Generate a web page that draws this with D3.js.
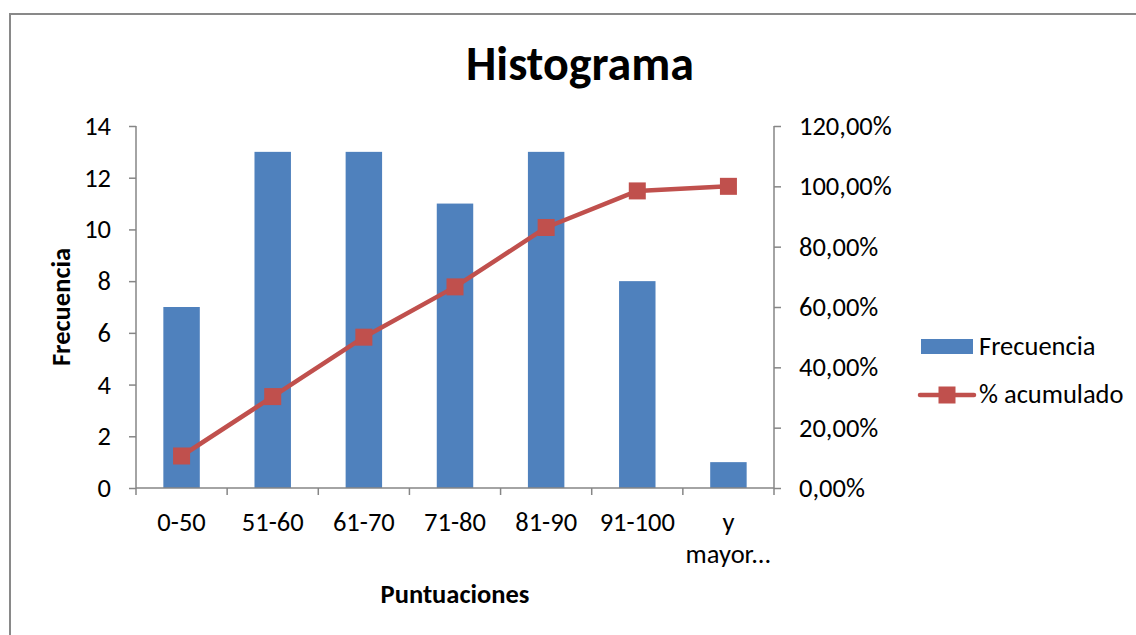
<!DOCTYPE html>
<html>
<head>
<meta charset="utf-8">
<script src="https://cdn.jsdelivr.net/npm/d3@7"></script>
<style>
  html, body { margin: 0; padding: 0; background: #fff; }
  svg { display: block; }
  text { font-family: Carlito, Calibri, Lato, "Noto Sans", sans-serif; fill: #000; }
</style>
</head>
<body>
<svg id="chart" width="1136" height="635"></svg>
<script>
// ---- data ----
const categories = ["0-50", "51-60", "61-70", "71-80", "81-90", "91-100", "y mayor..."];
const frecuencia = [7, 13, 13, 11, 13, 8, 1];
const acumulado = [0.1061, 0.3030, 0.5000, 0.6667, 0.8636, 0.9848, 1.0000];
const leftTicks = [0, 2, 4, 6, 8, 10, 12, 14];
const rightTicks = [0, 0.2, 0.4, 0.6, 0.8, 1.0, 1.2];
const title = "Histograma";
const xTitle = "Puntuaciones";
const yTitle = "Frecuencia";
const seriesNames = ["Frecuencia", "% acumulado"];

// ---- layout ----
const W = 1136, H = 635;
const plot = { left: 136, right: 774, top: 126, bottom: 488 };
const barColor = "#4F81BD";
const lineColor = "#C0504D";
const axisColor = "#868686";
const fontSize = 26.5;
const fontFam = "Carlito, Calibri, Lato, sans-serif";

const svg = d3.select("#chart");

// chart frame
svg.append("rect")
  .attr("x", 10).attr("y", 14)
  .attr("width", W).attr("height", H)
  .attr("fill", "#fff")
  .attr("stroke", "#898989").attr("stroke-width", 2);

// scales
const xSlot = d3.scaleBand().domain(categories).range([plot.left, plot.right]).padding(0);
const xBar = d3.scaleBand().domain(categories).range([plot.left, plot.right])
  .paddingInner(0.6).paddingOuter(0.3);
const yL = d3.scaleLinear().domain([0, 14]).range([plot.bottom, plot.top]);
const yR = d3.scaleLinear().domain([0, 1.2]).range([plot.bottom, plot.top]);

// bars
svg.append("g").selectAll("rect")
  .data(categories)
  .join("rect")
  .attr("x", d => xBar(d))
  .attr("width", xBar.bandwidth())
  .attr("y", (d, i) => yL(frecuencia[i]))
  .attr("height", (d, i) => yL(0) - yL(frecuencia[i]))
  .attr("fill", barColor);

// left axis
const gL = svg.append("g").attr("transform", `translate(${plot.left},0)`)
  .call(d3.axisLeft(yL).tickValues(leftTicks).tickSize(7).tickPadding(18).tickFormat(d3.format("d")));
gL.select(".domain").attr("stroke", axisColor).attr("stroke-width", 1.5)
  .attr("d", `M0,${plot.top}V${plot.bottom}`);
gL.selectAll(".tick line").attr("stroke", axisColor).attr("stroke-width", 1.5);
gL.selectAll(".tick text").style("font-size", fontSize + "px").attr("fill", "#000")
  .style("font-family", fontFam);

// right axis
const pctFmt = v => (v * 100).toFixed(2).replace(".", ",") + "%";
const gR = svg.append("g").attr("transform", `translate(${plot.right},0)`)
  .call(d3.axisRight(yR).tickValues(rightTicks).tickSize(7).tickPadding(18).tickFormat(pctFmt));
gR.select(".domain").attr("stroke", axisColor).attr("stroke-width", 1.5)
  .attr("d", `M0,${plot.top}V${plot.bottom}`);
gR.selectAll(".tick line").attr("stroke", axisColor).attr("stroke-width", 1.5);
gR.selectAll(".tick text").style("font-size", fontSize + "px").attr("fill", "#000")
  .style("font-family", fontFam);

// bottom axis (ticks at slot boundaries)
const boundaries = categories.map(c => xSlot(c)).concat([plot.right]);
const gB = svg.append("g");
gB.append("line")
  .attr("x1", plot.left).attr("x2", plot.right)
  .attr("y1", plot.bottom).attr("y2", plot.bottom)
  .attr("stroke", axisColor).attr("stroke-width", 1.5);
gB.selectAll("line.tk").data(boundaries).join("line").attr("class", "tk")
  .attr("x1", d => d).attr("x2", d => d)
  .attr("y1", plot.bottom).attr("y2", plot.bottom + 7)
  .attr("stroke", axisColor).attr("stroke-width", 1.5);
const catLabels = gB.selectAll("text").data(categories).join("text")
  .attr("x", d => xSlot(d) + xSlot.bandwidth() / 2)
  .attr("y", 531)
  .attr("text-anchor", "middle")
  .style("font-size", fontSize + "px");
catLabels.each(function(d) {
  const t = d3.select(this);
  const parts = d.startsWith("y ") ? ["y", d.slice(2)] : [d];
  parts.forEach((p, i) => {
    t.append("tspan").attr("x", xSlot(d) + xSlot.bandwidth() / 2)
      .attr("dy", i === 0 ? 0 : 32).text(p);
  });
});

// line series
const line = d3.line()
  .x((d, i) => xSlot(categories[i]) + xSlot.bandwidth() / 2)
  .y(d => yR(d));
svg.append("path").datum(acumulado)
  .attr("d", line)
  .attr("fill", "none")
  .attr("stroke", lineColor).attr("stroke-width", 4.5)
  .attr("stroke-linejoin", "round");
const ms = 17;
svg.append("g").selectAll("rect").data(acumulado).join("rect")
  .attr("x", (d, i) => xSlot(categories[i]) + xSlot.bandwidth() / 2 - ms / 2)
  .attr("y", d => yR(d) - ms / 2)
  .attr("width", ms).attr("height", ms)
  .attr("fill", lineColor);

// titles
svg.append("text").attr("x", 580).attr("y", 80)
  .attr("text-anchor", "middle")
  .style("font-size", "48px").style("font-weight", "bold")
  .text(title);
svg.append("text").attr("x", (plot.left + plot.right) / 2).attr("y", 603)
  .attr("text-anchor", "middle")
  .style("font-size", fontSize + "px").style("font-weight", "bold")
  .text(xTitle);
svg.append("text")
  .attr("transform", `translate(70,${(plot.top + plot.bottom) / 2}) rotate(-90)`)
  .attr("text-anchor", "middle")
  .style("font-size", fontSize + "px").style("font-weight", "bold")
  .text(yTitle);

// legend
const lg = svg.append("g");
lg.append("rect").attr("x", 921).attr("y", 339).attr("width", 52).attr("height", 15)
  .attr("fill", barColor);
lg.append("text").attr("x", 979).attr("y", 355).style("font-size", fontSize + "px").text(seriesNames[0]);
lg.append("line").attr("x1", 920).attr("x2", 974).attr("y1", 395).attr("y2", 395)
  .attr("stroke", lineColor).attr("stroke-width", 4.5).attr("stroke-linecap", "round");
lg.append("rect").attr("x", 947 - ms / 2).attr("y", 395 - ms / 2).attr("width", ms).attr("height", ms)
  .attr("fill", lineColor);
lg.append("text").attr("x", 979).attr("y", 403).style("font-size", fontSize + "px").text(seriesNames[1]);
</script>
</body>
</html>
